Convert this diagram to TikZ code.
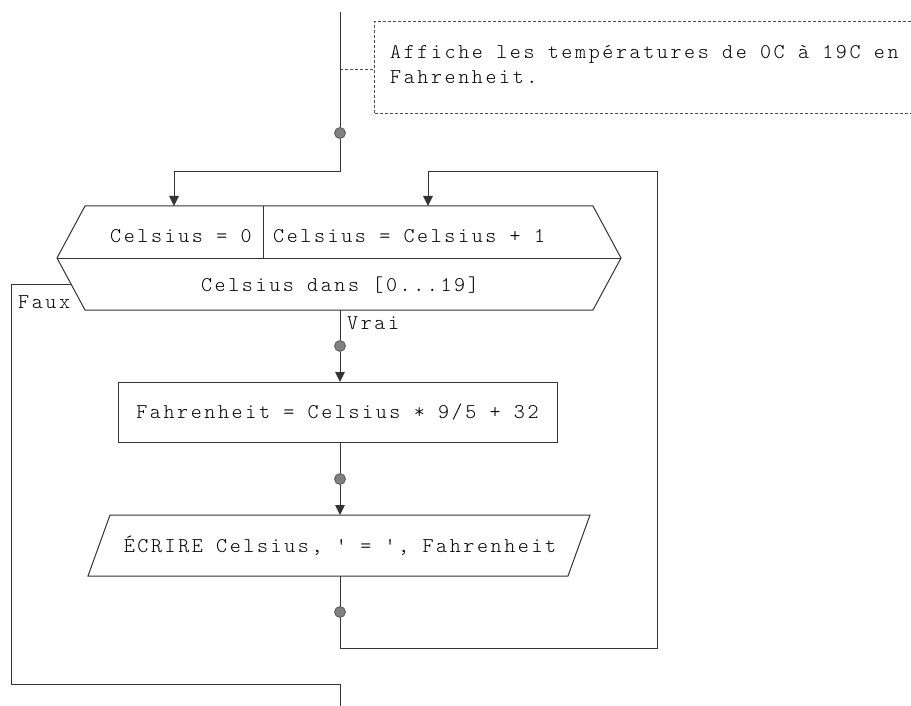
\documentclass[tikz,border=0pt]{standalone}
\usetikzlibrary{arrows.meta}
\font\cfont="[lmmonolt10-regular]:letterspace=12.4" at 21pt
\fontdimen2\cfont=13.3pt
\fontdimen3\cfont=0pt
\fontdimen4\cfont=0pt
\begin{document}
\begin{tikzpicture}[x=1pt,y=-1pt,
  line/.style={draw=black!80, line width=1pt},
  arr/.style={line, -{Triangle[length=10pt,width=9.5pt]}},
  dotnode/.style={circle, fill=black!50, draw=black!65, line width=0.8pt, minimum size=11pt, inner sep=0pt},
  txt/.style={font=\cfont, inner sep=0pt, text=black},
  box/.style={draw=black!80, line width=1pt, minimum width=439pt, minimum height=60pt, font=\cfont, inner sep=0pt, text=black},
  cmt/.style={draw=black!70, line width=1pt, dash pattern=on 3pt off 2pt}]
\useasboundingbox (0,0) rectangle (911,706);

% comment
\node[txt, anchor=base west] (c1) at (390,59) {Affiche les températures de 0C à 19C en};
\node[txt, anchor=base west] (c2) at (390,84) {Fahrenheit.};
\coordinate (cbTL) at (374,22);
\coordinate (cbBL) at (374,114);
\coordinate (cbTR) at (911,22);
\coordinate (cbBR) at (911,114);
\draw[cmt] (cbTR) -- (cbTL) -- (cbBL) -- (cbBR);
\coordinate (cmtJ) at (340,70);
\coordinate (cmtL) at (374,70);
\draw[cmt] (cmtJ) -- (cmtL);

% entry
\coordinate (top) at (340,12);
\node[dotnode] (d1) at (340,133) {};
\draw[line] (top) -- (d1);

% loop hexagon
\coordinate (hL) at (57,258);
\coordinate (hTL) at (85,206);
\coordinate (hTR) at (593,206);
\coordinate (hR) at (621,258);
\coordinate (hBR) at (593,310);
\coordinate (hBL) at (85,310);
\coordinate (hDiv) at (263,206);
\coordinate (hDivB) at (263,258);
\draw[line] (hL) -- (hTL) -- (hTR) -- (hR) -- (hBR) -- (hBL) -- cycle;
\draw[line] (hL) -- (hR);
\draw[line] (hDiv) -- (hDivB);
\node[txt, anchor=base west] (t0) at (110,243) {Celsius = 0};
\node[txt, anchor=base west] (t1) at (273,243) {Celsius = Celsius + 1};
\node[txt, anchor=base] (t2) at (340,291) {Celsius dans [0...19]};

% arrow into init
\coordinate (j1) at (340,172);
\coordinate (inA) at (174,206);
\draw[arr] (d1) -- (j1) -| (inA);

% Vrai branch
\coordinate (hBot) at (340,310);
\node[dotnode] (d2) at (340,346) {};
\draw[line] (hBot) -- (d2);
\node[txt, anchor=base west] (vrai) at (347,329) {Vrai};
\node[box] (calc) at (337.5,412) {Fahrenheit = Celsius * 9/5 + 32};
\coordinate (calcTop) at (340,382);
\coordinate (calcBot) at (340,442);
\draw[arr] (d2) -- (calcTop);

\node[dotnode] (d3) at (340,479) {};
\draw[line] (calcBot) -- (d3);

% output parallelogram
\coordinate (pTL) at (110,515);
\coordinate (pTR) at (590,515);
\coordinate (pBR) at (568,576);
\coordinate (pBL) at (88,576);
\draw[line] (pTL) -- (pTR) -- (pBR) -- (pBL) -- cycle;
\node[txt] (out) at (340,546) {ÉCRIRE Celsius, ' = ', Fahrenheit};
\coordinate (pTop) at (340,515);
\coordinate (pBot) at (340,576);
\draw[arr] (d3) -- (pTop);

\node[dotnode] (d4) at (340,612) {};
\draw[line] (pBot) -- (d4);

% loop back
\coordinate (rb1) at (340,648);
\coordinate (rb2) at (657,648);
\coordinate (rb3) at (657,172);
\coordinate (inB) at (428,206);
\draw[arr] (d4) -- (rb1) -- (rb2) -- (rb3) -| (inB);

% Faux branch
\coordinate (fx) at (71,284);
\coordinate (f1) at (11,284);
\coordinate (f2) at (11,684);
\coordinate (f3) at (340,684);
\coordinate (exit) at (340,706);
\draw[line] (fx) -- (f1) -- (f2) -- (f3) -- (exit);
\node[txt, anchor=base west] (faux) at (18,308) {Faux};
\end{tikzpicture}
\end{document}
